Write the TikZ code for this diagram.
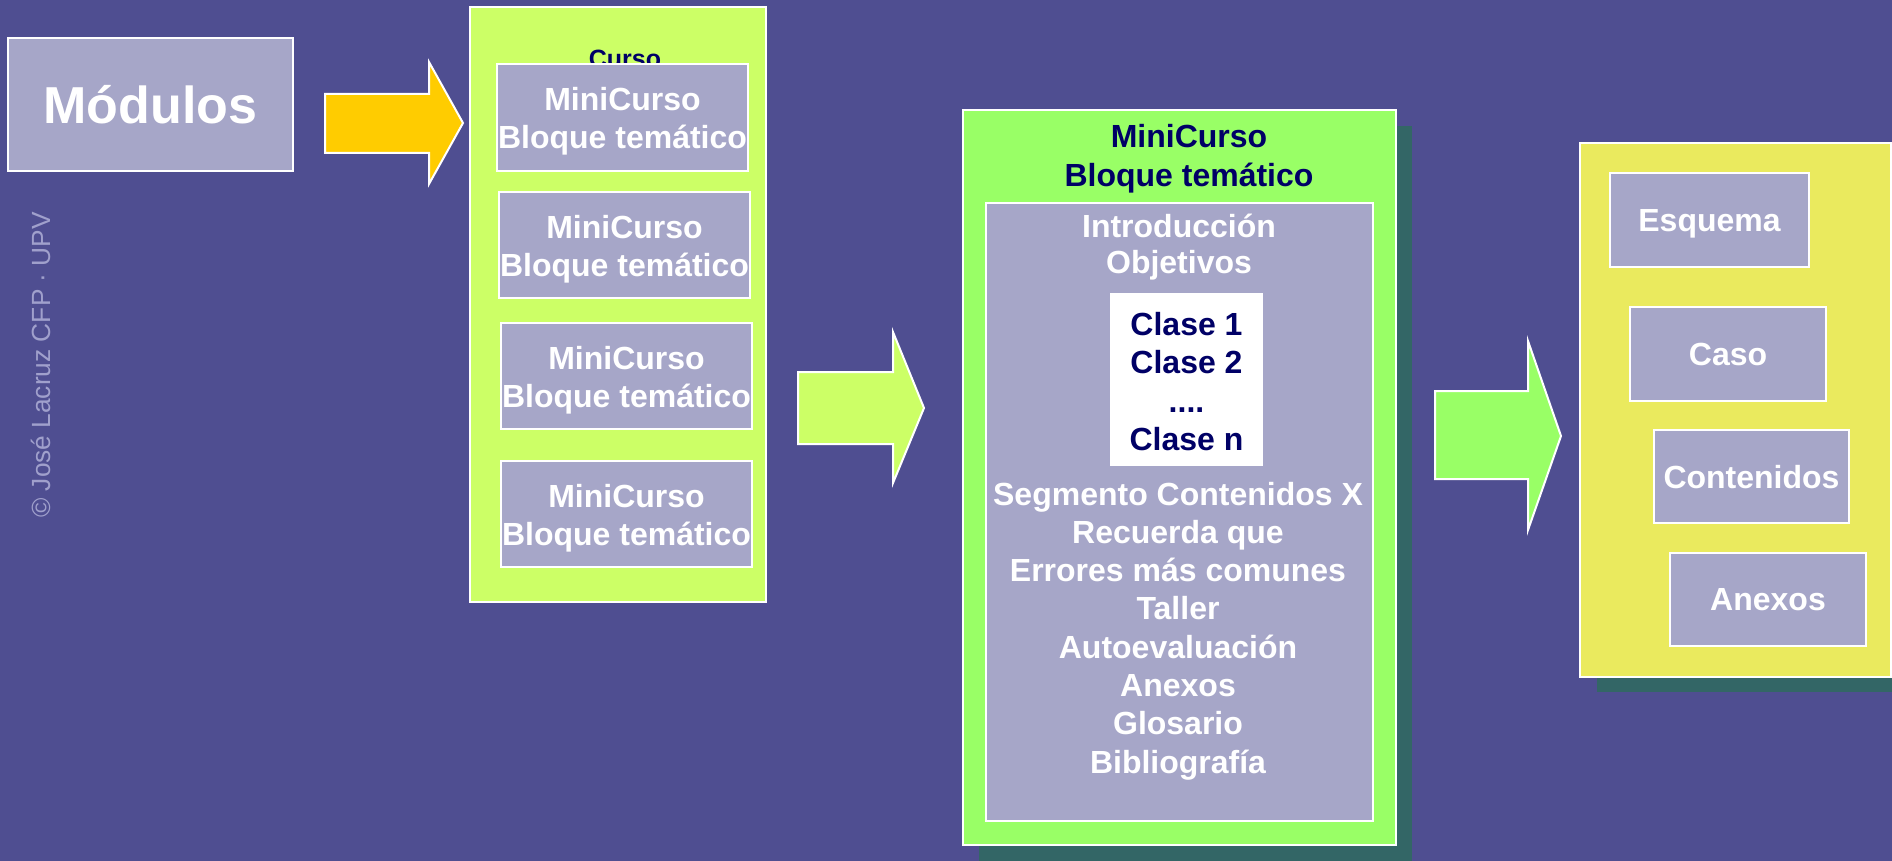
\documentclass[tikz,border=0pt]{standalone}
\usepackage{fontspec}
\setmainfont{Liberation Sans}

\definecolor{bgblue}{RGB}{79,78,145}
\definecolor{lavender}{RGB}{166,166,200}
\definecolor{limegreen}{RGB}{204,255,102}
\definecolor{brightgreen}{RGB}{153,255,102}
\definecolor{paleyellow}{RGB}{234,234,94}
\definecolor{gold}{RGB}{255,204,0}
\definecolor{shadowteal}{RGB}{51,102,102}
\definecolor{navy}{RGB}{0,0,102}
\definecolor{credit}{RGB}{160,160,204}

\newcommand{\bodyfont}{\bfseries\fontsize{32}{38.3}\selectfont}

\begin{document}
\begin{tikzpicture}[x=1pt, y=-1pt,
  frame/.style={draw=white, line width=2pt, inner sep=0pt},
  lavbox/.style={frame, fill=lavender, text=white, font=\bodyfont, align=center},
  onebox/.style={lavbox, text height=27pt, text depth=4pt},
  pairtxt/.style={text=white, font=\bodyfont, align=center, inner sep=0pt},
  navytxt/.style={text=navy, font=\bodyfont, inner sep=0pt, anchor=base},
  whitetxt/.style={text=white, font=\bodyfont, inner sep=0pt, anchor=base},
  blockarrow/.style={draw=white, line width=2pt, line join=miter}
]
% page and background
\useasboundingbox (0,0) rectangle (1892,861);
\fill[bgblue] (0,0) rectangle (1892,861);

% credit line along the left edge
\node[rotate=90, anchor=base west, inner sep=0pt, text=credit,
      font=\fontsize{26.3}{30}\selectfont] (credit) at (50,518)
      {© José Lacruz CFP · UPV};

% modules box
\node[lavbox, font=\bfseries\fontsize{52}{60}\selectfont,
      minimum width=285pt, minimum height=133pt] (modulos) at (150.5,104.5) {Módulos};

% first block arrow
\draw[blockarrow, fill=gold] (325,94) -- (429,94) -- (429,62) -- (463,123)
      -- (429,184) -- (429,153) -- (325,153) -- cycle;

% course panel with its mini-courses
\node[frame, fill=limegreen, minimum width=296pt, minimum height=595pt] (curso) at (618,304.5) {};
\node[navytxt, font=\bfseries\fontsize{25}{30}\selectfont] (cursotitle) at (625,68) {Curso};
\node[lavbox, minimum width=251pt, minimum height=107pt] (mc1) at (622.5,117.5) {};
\node[lavbox, minimum width=251pt, minimum height=106pt] (mc2) at (624.5,245) {};
\node[lavbox, minimum width=251pt, minimum height=106pt] (mc3) at (626.5,376) {};
\node[lavbox, minimum width=251pt, minimum height=106pt] (mc4) at (626.5,514) {};
\foreach \b in {mc1,mc2,mc3,mc4}
  \node[pairtxt] (\b text) at ([yshift=-4pt]\b.center) {MiniCurso\\Bloque temático};

% second block arrow
\draw[blockarrow, fill=limegreen] (798,372) -- (893,372) -- (893,332) -- (924,408)
      -- (893,483) -- (893,444) -- (798,444) -- cycle;

% mini-course panel
\fill[shadowteal] (979,126) rectangle (1412,861);
\node[frame, fill=brightgreen, minimum width=433pt, minimum height=735pt] (mcpanel) at (1179.5,477.5) {};
\node[navytxt] (mctitle1) at (1189,148) {MiniCurso};
\node[navytxt] (mctitle2) at (1189,187) {Bloque temático};
\node[frame, fill=lavender, minimum width=387pt, minimum height=618pt] (mcinner) at (1179.5,512) {};
\node[whitetxt] (intro) at (1179,237) {Introducción};
\node[whitetxt] (obj) at (1179,273) {Objetivos};

% list of lessons
\node[fill=white, inner sep=0pt, minimum width=153pt, minimum height=173pt] (clases) at (1186.5,379.5) {};
\node[navytxt] (clase1) at (1186.5,335) {Clase 1};
\node[navytxt] (clase2) at (1186.5,373) {Clase 2};
\node[navytxt] (dots) at (1186.5,412) {....};
\node[navytxt] (clasen) at (1186.5,450) {Clase n};

% remaining sections of the mini-course
\foreach \item [count=\i] in {Segmento Contenidos X, Recuerda que, Errores más comunes,
    Taller, Autoevaluación, Anexos, Glosario, Bibliografía}
  \node[whitetxt] (sec\i) at (1178,{505+38.3*(\i-1)}) {\item};

% third block arrow
\draw[blockarrow, fill=brightgreen] (1435,391) -- (1528,391) -- (1528,341) -- (1561,436)
      -- (1528,530) -- (1528,479) -- (1435,479) -- cycle;

% lesson panel
\fill[shadowteal] (1597,158) rectangle (1892,692);
\node[frame, fill=paleyellow, minimum width=311pt, minimum height=533pt] (clasepanel) at (1735.5,410) {};
\node[onebox, minimum width=199pt, minimum height=94pt] (esquema) at (1709.5,220) {Esquema};
\node[onebox, minimum width=196pt, minimum height=94pt] (caso) at (1728,353.5) {Caso};
\node[onebox, minimum width=195pt, minimum height=93pt] (contenidos) at (1751.5,476.5) {Contenidos};
\node[onebox, minimum width=196pt, minimum height=93pt] (anexos) at (1768,599) {Anexos};
\end{tikzpicture}
\end{document}
